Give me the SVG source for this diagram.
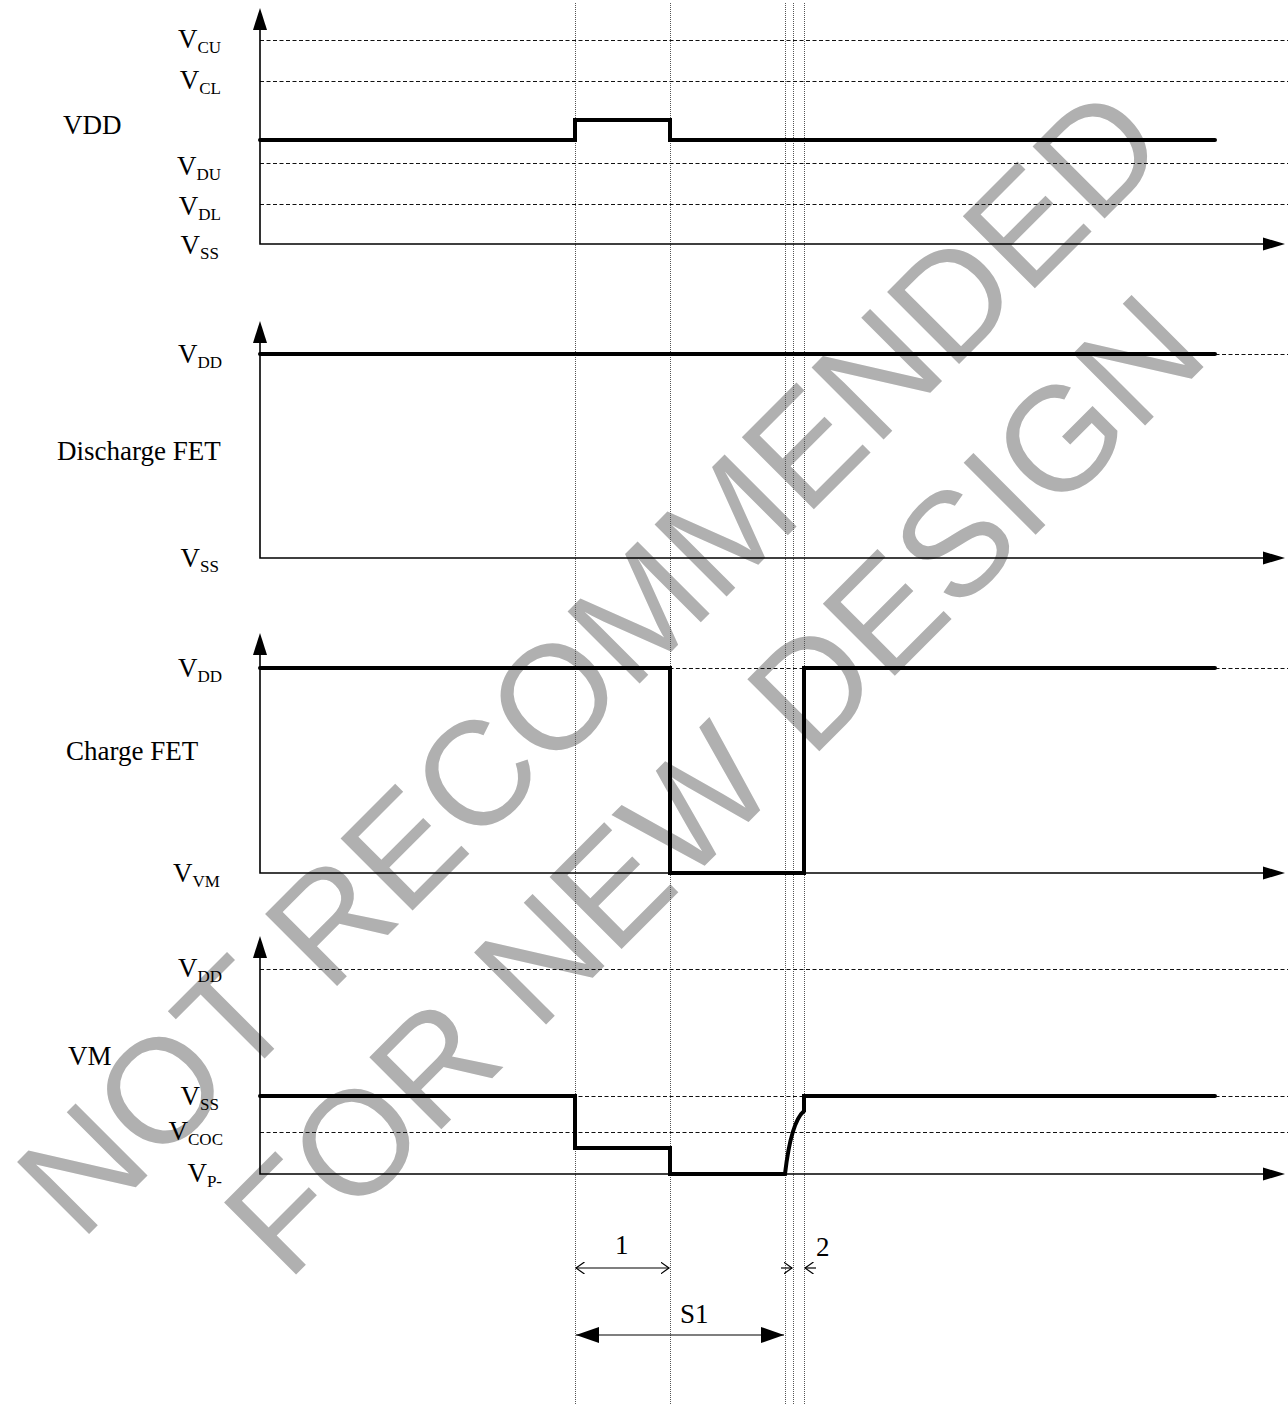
<svg xmlns="http://www.w3.org/2000/svg" width="1288" height="1404" viewBox="0 0 1288 1404">
<style>
.wm{font-family:"Liberation Sans",Arial,sans-serif;font-size:148px;fill:#b0b0b0;text-anchor:middle}
.lbl{font-family:"Liberation Serif","Times New Roman",serif;font-size:27px;fill:#000}
.v{text-anchor:end}
.sub{font-size:17px}
.grid{stroke:#555;stroke-width:1;stroke-dasharray:1 1;fill:none}
.dash{stroke:#111;stroke-width:1;stroke-dasharray:4 2.5;fill:none}
.axis{stroke:#000;stroke-width:1.6;fill:none}
.sig{stroke:#000;stroke-width:4;fill:none;stroke-linecap:round;stroke-linejoin:miter}
.dim{stroke:#000;stroke-width:1.2;fill:none}
.head{fill:#000}
</style>
<defs>
<marker id="open" viewBox="0 0 10 12" refX="8.5" refY="6" markerWidth="10" markerHeight="12" markerUnits="userSpaceOnUse" orient="auto-start-reverse">
<path d="M0,0 L8.5,6 L0,12" fill="none" stroke="#000" stroke-width="1.2"/>
</marker>
<marker id="fill" viewBox="0 0 23 16" refX="23" refY="8" markerWidth="23" markerHeight="16" markerUnits="userSpaceOnUse" orient="auto-start-reverse">
<path d="M0,0 L23,8 L0,16 z" fill="#000"/>
</marker>
</defs>
<rect width="1288" height="1404" fill="#fff"/>
<g id="watermark" transform="translate(626,697) rotate(-45)">
<text class="wm" x="0" y="0">NOT RECOMMENDED</text>
<text class="wm" x="0" y="175">FOR NEW DESIGN</text>
</g>
<g id="timing-lines">
<line class="grid" x1="575.5" y1="3" x2="575.5" y2="1404"/>
<line class="grid" x1="670.5" y1="3" x2="670.5" y2="1404"/>
<line class="grid" x1="785.5" y1="3" x2="785.5" y2="1404"/>
<line class="grid" x1="793.5" y1="3" x2="793.5" y2="1404"/>
<line class="grid" x1="804.5" y1="3" x2="804.5" y2="1404"/>
</g>
<g id="panel-vdd">
<line class="dash" x1="260" y1="40.5" x2="1288" y2="40.5"/>
<line class="dash" x1="260" y1="81.5" x2="1288" y2="81.5"/>
<line class="dash" x1="260" y1="163.5" x2="1288" y2="163.5"/>
<line class="dash" x1="260" y1="204.5" x2="1288" y2="204.5"/>
<path class="axis" d="M260,28 V244 H1265"/>
<path class="head" d="M260,8 L253,30 L267,30 z"/>
<path class="head" d="M1285,244 L1263,237.5 L1263,250.5 z"/>
<path class="sig" d="M260,140 H575 V120 H670 V140 H1215"/>
<text class="lbl" x="63" y="134">VDD</text>
<text class="lbl v" x="221" y="48">V<tspan class="sub" dy="5">CU</tspan></text>
<text class="lbl v" x="221" y="89">V<tspan class="sub" dy="5">CL</tspan></text>
<text class="lbl v" x="221" y="175">V<tspan class="sub" dy="5">DU</tspan></text>
<text class="lbl v" x="221" y="215">V<tspan class="sub" dy="5">DL</tspan></text>
<text class="lbl v" x="219" y="254">V<tspan class="sub" dy="5">SS</tspan></text>
</g>
<g id="panel-discharge">
<line class="dash" x1="260" y1="354.5" x2="1288" y2="354.5"/>
<path class="axis" d="M260,340 V558 H1265"/>
<path class="head" d="M260,321 L253,343 L267,343 z"/>
<path class="head" d="M1285,558 L1263,551.5 L1263,564.5 z"/>
<path class="sig" d="M260,354 H1215"/>
<text class="lbl" x="57" y="460">Discharge FET</text>
<text class="lbl v" x="222" y="363">V<tspan class="sub" dy="5">DD</tspan></text>
<text class="lbl v" x="219" y="567">V<tspan class="sub" dy="5">SS</tspan></text>
</g>
<g id="panel-charge">
<line class="dash" x1="260" y1="668.5" x2="1288" y2="668.5"/>
<path class="axis" d="M260,652 V873 H1265"/>
<path class="head" d="M260,633 L253,655 L267,655 z"/>
<path class="head" d="M1285,873 L1263,866.5 L1263,879.5 z"/>
<path class="sig" d="M260,668 H670 V873 H804 V668 H1215"/>
<text class="lbl" x="66" y="760">Charge FET</text>
<text class="lbl v" x="222" y="677">V<tspan class="sub" dy="5">DD</tspan></text>
<text class="lbl v" x="220" y="882">V<tspan class="sub" dy="5">VM</tspan></text>
</g>
<g id="panel-vm">
<line class="dash" x1="260" y1="969.5" x2="1288" y2="969.5"/>
<line class="dash" x1="260" y1="1096.5" x2="1288" y2="1096.5"/>
<line class="dash" x1="260" y1="1132.5" x2="1288" y2="1132.5"/>
<path class="axis" d="M260,955 V1174 H1265"/>
<path class="head" d="M260,936 L253,958 L267,958 z"/>
<path class="head" d="M1285,1174 L1263,1167.5 L1263,1180.5 z"/>
<path class="sig" d="M260,1096 H575 V1148 H670 V1174 H785 Q791,1122 804,1111 V1096 H1215"/>
<text class="lbl" x="68" y="1065">VM</text>
<text class="lbl v" x="222" y="977">V<tspan class="sub" dy="5">DD</tspan></text>
<text class="lbl v" x="219" y="1105">V<tspan class="sub" dy="5">SS</tspan></text>
<text class="lbl v" x="223" y="1140">V<tspan class="sub" dy="5">COC</tspan></text>
<text class="lbl v" x="222" y="1182">V<tspan class="sub" dy="5">P-</tspan></text>
</g>
<g id="connectors">
<line class="dim" x1="576" y1="1268" x2="669" y2="1268" marker-start="url(#open)" marker-end="url(#open)"/>
<line class="dim" x1="781" y1="1268" x2="792" y2="1268" marker-end="url(#open)"/>
<line class="dim" x1="816" y1="1268" x2="805" y2="1268" marker-end="url(#open)"/>
<line class="dim" x1="576" y1="1335" x2="784" y2="1335" stroke-width="1.6" marker-start="url(#fill)" marker-end="url(#fill)"/>
</g>
<g id="dim-labels">
<text class="lbl" x="615" y="1254">1</text>
<text class="lbl" x="816" y="1256">2</text>
<text class="lbl" x="680" y="1323">S1</text>
</g>
</svg>
